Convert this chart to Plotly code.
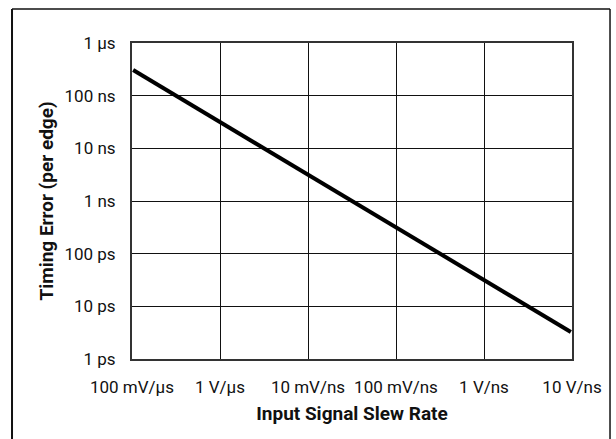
import plotly.graph_objects as go

# Data (x in V/ns, y in seconds)
slew_rate = [1.03e-4, 9.7]
timing_error = [307e-9, 3.26e-12]

x_tickvals = [1e-4, 1e-3, 1e-2, 1e-1, 1, 10]
x_ticktext = ["100 mV/µs", "1 V/µs", "10 mV/ns", "100 mV/ns", "1 V/ns", "10 V/ns"]
y_tickvals = [1e-6, 1e-7, 1e-8, 1e-9, 1e-10, 1e-11, 1e-12]
y_ticktext = ["1 µs", "100 ns", "10 ns", "1 ns", "100 ps", "10 ps", "1 ps"]

FONT = "Roboto, Liberation Sans, sans-serif"

fig = go.Figure()
fig.add_trace(go.Scatter(x=slew_rate, y=timing_error, mode="lines",
                         line=dict(color="black", width=4), showlegend=False,
                         hoverinfo="skip"))

fig.update_xaxes(type="log", range=[-4, 1], tickvals=x_tickvals, ticktext=x_ticktext,
                 showgrid=True, gridcolor="#111", gridwidth=1.3,
                 showline=True, linecolor="#333", linewidth=2, mirror=True,
                 ticks="", ticklabelstandoff=12,
                 tickfont=dict(family=FONT, size=17, color="#111"),
                 title=dict(text="<b>Input Signal Slew Rate</b>", standoff=10,
                            font=dict(family=FONT, size=19, color="#111")))
fig.update_yaxes(type="log", range=[-12, -6], tickvals=y_tickvals, ticktext=y_ticktext,
                 showgrid=True, gridcolor="#111", gridwidth=1.3,
                 showline=True, linecolor="#333", linewidth=2, mirror=True,
                 ticks="", ticklabelstandoff=11,
                 tickfont=dict(family=FONT, size=17, color="#111"),
                 title=dict(text="<b>Timing Error (per edge)</b>", standoff=6,
                            font=dict(family=FONT, size=19, color="#111")))

fig.update_layout(
    width=616, height=439,
    margin=dict(l=132, r=44, t=43, b=80),
    paper_bgcolor="white", plot_bgcolor="white",
    shapes=[
        dict(type="line", xref="paper", yref="paper", x0=-0.2727, x1=-0.2727, y0=-0.3, y1=1.1076,
             line=dict(color="#111", width=2)),
        dict(type="line", xref="paper", yref="paper", x0=-0.2727, x1=1.0864, y0=1.1076, y1=1.1076,
             line=dict(color="#111", width=1.5)),
        dict(type="line", xref="paper", yref="paper", x0=1.0864, x1=1.0864, y0=-0.3, y1=1.1076,
             line=dict(color="#111", width=1.5)),
    ],
)

# remove the page's default body margin so the figure sits at the window origin
fig.write_html("out.html", config={"displayModeBar": False},
               post_script="document.body.style.margin='0';document.body.style.overflow='hidden';")
